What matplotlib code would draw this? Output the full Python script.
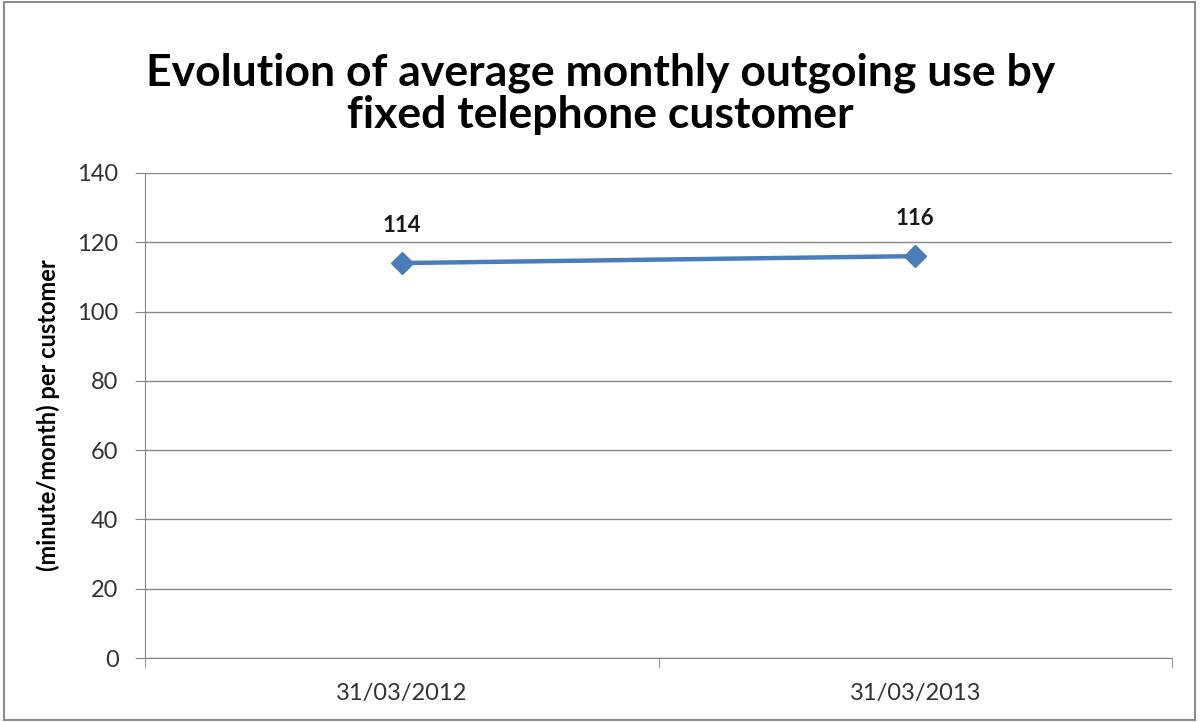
import matplotlib.pyplot as plt

# chart data
dates = ['31/03/2012', '31/03/2013']
use_per_customer = [114, 116]
y_ticks = [0, 20, 40, 60, 80, 100, 120, 140]

plt.rcParams['font.family'] = ['Lato', 'DejaVu Sans']

fig = plt.figure(figsize=(12.01, 7.22), dpi=100)
ax = fig.add_axes([0.1207, 0.0886, 0.8552, 0.6718])

# gray frame round the whole chart
fig.patches.append(plt.Rectangle((0.003, 0.003), 0.992, 0.994, transform=fig.transFigure,
                                 fill=False, edgecolor='#8c8c8c', linewidth=1.5))

x = list(range(len(dates)))
ax.plot(x, use_per_customer, color='#4A7EBB', linewidth=3.2, marker='D', markersize=11,
        markerfacecolor='#4A7EBB', markeredgecolor='#4A7EBB', zorder=3)
for xi, v in zip(x, use_per_customer):
    ax.annotate(str(v), (xi, v), xytext=(0, 38), textcoords='offset pixels',
                ha='center', va='center', fontsize=16, fontweight='bold', color='#1a1a1a')

ax.set_xlim(-0.5, len(dates) - 0.5)
ax.set_ylim(0, 140)
ax.set_yticks(y_ticks)
ax.set_xticks(x)
ax.set_xticklabels(dates)
ax.set_xticks([-0.5, 0.5, 1.5], minor=True)
ax.tick_params(axis='x', which='major', length=0, pad=18, labelsize=17, labelcolor='#333333')
ax.tick_params(axis='x', which='minor', length=7, color='#868686', direction='out')
ax.tick_params(axis='y', length=7, color='#868686', pad=12, labelsize=17, labelcolor='#333333')

ax.grid(axis='y', color='#868686', linewidth=1)
ax.set_axisbelow(True)
for side in ['top', 'right']:
    ax.spines[side].set_visible(False)
ax.spines['left'].set_color('#868686')
ax.spines['bottom'].set_color('#868686')

ax.set_ylabel('(minute/month) per customer', fontsize=17, fontweight='bold')
ax.yaxis.set_label_coords(-0.083, 0.5)
fig.text(0.5, 0.8705, 'Evolution of average monthly outgoing use by\nfixed telephone customer',
         ha='center', va='center', fontsize=32, fontweight='bold', linespacing=1.05)

fig.savefig('out.png', dpi=100)
